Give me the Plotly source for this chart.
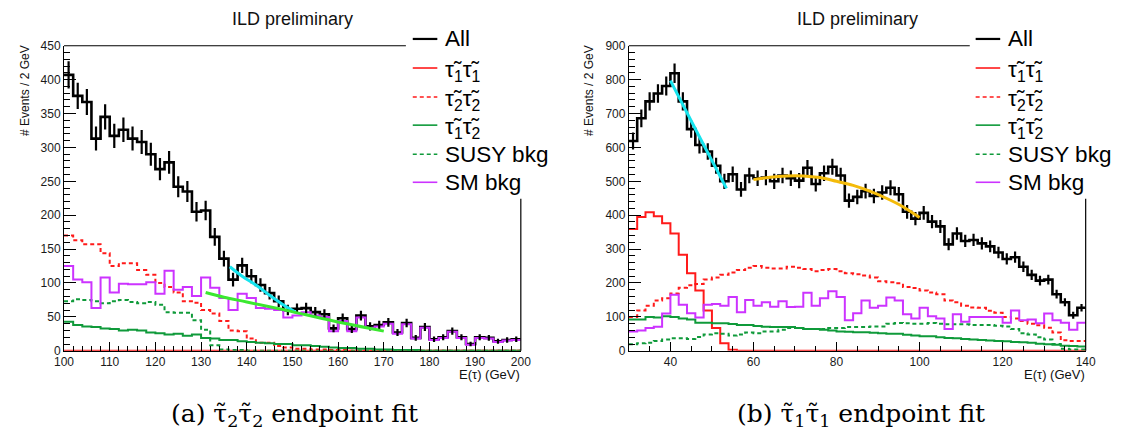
import numpy as np
import plotly.graph_objects as go

W, H = 1133, 443

# ---------------- data: left panel (stau2 endpoint), bins 100..200 GeV, 2 GeV wide
edges_L = list(range(100, 202, 2))
all_L = [407, 376, 367, 313, 345, 317, 326, 313, 308, 290, 268, 278, 242, 235, 205, 207, 168, 136, 105, 126,
         110, 97, 85, 73, 60, 62, 63, 57, 54, 33, 48, 32, 52, 36, 38, 42, 27, 41, 19, 35,
         17, 20, 29, 20, 10, 20, 19, 14, 16, 17]
stau11_L = [0] * 50
stau22_L = [170, 163, 157, 157, 144, 125, 129, 129, 119, 112, 100, 94, 86, 73, 71, 60, 55, 44, 30, 29,
            18, 12, 12, 7, 5, 3, 3, 2, 2, 1, 1] + [0] * 19
stau12_L = [43, 38, 36, 35, 33, 32, 30, 31, 30, 27, 26, 24, 25, 22, 24, 19, 18, 16, 16, 14,
            13, 12, 11, 10, 10, 8, 8, 7, 6, 5, 4, 4, 3, 3, 2, 2, 1, 1, 1] + [0] * 11
susy_L = [73, 76, 75, 73, 70, 73, 75, 72, 70, 72, 68, 57, 56, 56, 45, 31, 8, 2, 1, 1] + [0] * 30
sm_L = [125, 105, 101, 63, 108, 86, 99, 98, 98, 101, 84, 118, 90, 94, 81, 108, 93, 78, 60, 84,
        78, 63, 62, 60, 49, 52, 57, 52, 50, 29, 44, 29, 49, 34, 36, 40, 25, 39, 18, 34,
        16, 19, 28, 19, 9, 19, 18, 13, 15, 16]
fit1_L_x = [136.3, 139, 142, 145, 148.4, 150.7]
fit1_L_y = [124, 110, 97, 82, 66, 57]
fit2_L_x = [131, 135, 140, 148.4, 159, 170]
fit2_L_y = [86, 79, 72, 60, 44, 29]

# ---------------- data: right panel (stau1 endpoint), bins 30..140 GeV, 2 GeV wide
edges_R = list(range(30, 142, 2))
all_R = [619, 686, 736, 759, 781, 819, 736, 654, 607, 588, 546, 500, 521, 476, 517, 509, 511, 500, 517, 509,
         502, 540, 492, 524, 543, 517, 443, 454, 471, 457, 467, 481, 462, 410, 390, 407, 381, 367, 314, 346,
         324, 327, 317, 308, 290, 271, 276, 248, 224, 207, 210, 167, 143, 105, 127]
stau11_R = [359, 395, 409, 397, 376, 346, 283, 229, 178, 119, 67, 22, 3] + [0] * 42
stau22_R = [100, 119, 133, 148, 155, 169, 186, 193, 197, 210, 216, 224, 231, 238, 245, 250, 245, 243, 243, 248,
            245, 241, 235, 238, 241, 235, 229, 226, 222, 216, 205, 202, 199, 188, 185, 178, 172, 167, 148, 143,
            133, 128, 127, 118, 112, 100, 95, 88, 80, 75, 68, 54, 31, 29, 29]
stau12_R = [92, 92, 100, 98, 102, 100, 95, 92, 83, 83, 81, 81, 79, 76, 76, 73, 71, 70, 70, 70,
            67, 64, 64, 62, 60, 57, 56, 55, 55, 53, 52, 50, 50, 47, 45, 43, 43, 40, 38, 37,
            35, 33, 32, 30, 29, 28, 26, 25, 24, 21, 19, 18, 15, 14, 13]
susy_R = [19, 22, 24, 29, 33, 37, 37, 35, 41, 48, 52, 50, 45, 48, 54, 52, 57, 57, 62, 67,
          67, 64, 64, 64, 67, 67, 70, 70, 70, 72, 72, 80, 82, 81, 80, 80, 82, 80, 78, 78,
          78, 76, 76, 76, 74, 72, 64, 52, 48, 40, 33, 20, 6, 4, 4]
sm_R = [57, 60, 67, 71, 110, 165, 136, 111, 98, 136, 138, 133, 159, 114, 150, 133, 143, 130, 146, 129,
        130, 171, 133, 155, 176, 159, 90, 111, 148, 127, 133, 157, 148, 108, 95, 127, 102, 95, 64, 108,
        86, 100, 100, 100, 100, 83, 119, 90, 92, 81, 110, 90, 83, 62, 83]
fit1_R_x = [40, 46.7, 53.5]
fit1_R_y = [797, 638, 479]
fit2_R_x = [60, 64, 68, 72, 76, 80, 84, 88, 92, 96, 100]
fit2_R_y = [505, 512, 516, 516, 511, 500, 488, 471, 450, 425, 393]

legend_labels = ["All", "τ̃<sub>1</sub>τ̃<sub>1</sub>", "τ̃<sub>2</sub>τ̃<sub>2</sub>",
                 "τ̃<sub>1</sub>τ̃<sub>2</sub>", "SUSY bkg", "SM bkg"]

# ---------------- styles
BLACK = "#000000"
RED = "#ff1a1a"
GREEN = "#0f9a3a"
MAG = "#cc33ff"
CYAN = "#16e4ee"
LIME = "#3be830"
ORANGE = "#f4bb0a"
DOT = "4px,3px"
styles = [
    dict(color=BLACK, width=2.6, dash="solid"),
    dict(color=RED, width=2, dash="solid"),
    dict(color=RED, width=2, dash=DOT),
    dict(color=GREEN, width=2, dash="solid"),
    dict(color=GREEN, width=2, dash=DOT),
    dict(color=MAG, width=2, dash="solid"),
]

fig = go.Figure()


def step(edges, vals):
    return edges, list(vals) + [vals[-1]]


def add_panel(xa, ya, edges, series, fits):
    centers = [(edges[i] + edges[i + 1]) / 2 for i in range(len(edges) - 1)]
    x, y = step(edges, series[0])
    fig.add_trace(go.Scatter(x=x, y=y, mode="lines", line=dict(shape="hv", **styles[0]),
                             xaxis=xa, yaxis=ya, showlegend=False, hoverinfo="skip"))
    for s, st in zip(series[1:], styles[1:]):
        x, y = step(edges, s)
        fig.add_trace(go.Scatter(x=x, y=y, mode="lines", line=dict(shape="hv", **st),
                                 xaxis=xa, yaxis=ya, showlegend=False, hoverinfo="skip"))
    # Poisson error bars of the total
    fig.add_trace(go.Scatter(x=centers, y=series[0], mode="markers",
                             marker=dict(size=1, color=BLACK),
                             error_y=dict(type="data", array=np.sqrt(series[0]), thickness=2.2,
                                          width=0, color=BLACK),
                             xaxis=xa, yaxis=ya, showlegend=False, hoverinfo="skip"))
    for fx, fy, col in fits:
        fig.add_trace(go.Scatter(x=fx, y=fy, mode="lines", line=dict(color=col, width=3, shape="spline"),
                                 xaxis=xa, yaxis=ya, showlegend=False, hoverinfo="skip"))


add_panel("x", "y", edges_L, [all_L, stau11_L, stau22_L, stau12_L, susy_L, sm_L],
          [(fit1_L_x, fit1_L_y, CYAN), (fit2_L_x, fit2_L_y, LIME)])
add_panel("x2", "y2", edges_R, [all_R, stau11_R, stau22_R, stau12_R, susy_R, sm_R],
          [(fit1_R_x, fit1_R_y, CYAN), (fit2_R_x, fit2_R_y, ORANGE)])


def px(v):
    return v / W


def py(v):
    return 1 - v / H


TOP, BOT = 40, 355
FONT = "Liberation Sans, Arial, sans-serif"
tickfont = dict(family=FONT, size=12, color="#1a1a1a")


def xax(dom, rng, dtick, mdtick):
    return dict(domain=dom, range=rng, dtick=dtick, tick0=0, ticks="inside", ticklen=9, tickwidth=1,
                tickcolor="black", showline=True, linecolor="black", linewidth=1, showgrid=False,
                zeroline=False, tickfont=tickfont, fixedrange=True,
                minor=dict(ticks="inside", ticklen=5, dtick=mdtick, tickcolor="black", tickwidth=1,
                           showgrid=False))


def yax(rng, dtick, mdtick, anchor):
    return dict(domain=[py(BOT), py(TOP)], range=rng, dtick=dtick, tick0=0, ticks="inside", ticklen=12,
                tickwidth=1, tickcolor="black", showline=True, linecolor="black", linewidth=1,
                showgrid=False, zeroline=False, tickfont=tickfont, anchor=anchor, fixedrange=True,
                minor=dict(ticks="inside", ticklen=6, dtick=mdtick, tickcolor="black", tickwidth=1,
                           showgrid=False))


LX0, LX1 = 55, 520
RX0, RX1 = 630, 1095
fig.update_layout(
    width=W, height=H, margin=dict(l=0, r=0, t=0, b=0),
    paper_bgcolor="white", plot_bgcolor="white",
    xaxis=dict(**xax([px(LX0), px(LX1)], [100, 200], 10, 2), anchor="y"),
    yaxis=yax([0, 450], 50, 10, "x"),
    xaxis2=dict(**xax([px(RX0), px(RX1)], [30, 140], 20, 5), anchor="y2"),
    yaxis2=yax([0, 900], 100, 20, "x2"),
)

shapes = []
annotations = []
rows = [33, 63, 93, 122, 152, 181]
for (x0, x1, leg_line_x0, text_x, frame_end) in [(LX0, LX1, 410, 441, 403), (RX0, RX1, 983, 1014, 977)]:
    shapes.append(dict(type="line", xref="paper", yref="paper", x0=px(x0), x1=px(frame_end),
                       y0=py(TOP), y1=py(TOP), line=dict(color="black", width=1.2)))
    shapes.append(dict(type="line", xref="paper", yref="paper", x0=px(x1), x1=px(x1),
                       y0=py(198), y1=py(BOT), line=dict(color="black", width=1.2)))
    for r, lab, st in zip(rows, legend_labels, styles):
        shapes.append(dict(type="line", xref="paper", yref="paper", x0=px(leg_line_x0),
                           x1=px(leg_line_x0 + 25), y0=py(r), y1=py(r),
                           line=dict(color=st["color"], width=2.2 if st["color"] == BLACK else 1.6,
                                     dash=st["dash"])))
        yoff = 0 if lab in ("All", "SUSY bkg", "SM bkg") else 3
        annotations.append(dict(text=lab, x=px(text_x), y=py(r + yoff), xref="paper", yref="paper",
                                xanchor="left", yanchor="middle", showarrow=False,
                                font=dict(family=FONT, size=22.5, color="black")))
    annotations.append(dict(text="ILD preliminary", x=px((x0 + x1) / 2), y=py(12), xref="paper", yref="paper",
                            xanchor="center", yanchor="middle", showarrow=False,
                            font=dict(family=FONT, size=18, color="#111")))
    annotations.append(dict(text="E(τ) (GeV)", x=px(x1 + 1), y=py(379), xref="paper", yref="paper",
                            xanchor="right", yanchor="middle", showarrow=False,
                            font=dict(family=FONT, size=13, color="#111")))

annotations.append(dict(text="# Events / 2 GeV", x=px(16), y=py(37), xref="paper", yref="paper",
                        xanchor="center", yanchor="top", textangle=-90, showarrow=False,
                        font=dict(family=FONT, size=12, color="#111")))
annotations.append(dict(text="# Events / 2 GeV", x=px(590), y=py(37), xref="paper", yref="paper",
                        xanchor="center", yanchor="top", textangle=-90, showarrow=False,
                        font=dict(family=FONT, size=12, color="#111")))
SERIF = "DejaVu Serif, serif"
annotations.append(dict(text="(a) τ̃<sub>2</sub>τ̃<sub>2</sub> endpoint fit", x=px(290), y=py(421),
                        xref="paper", yref="paper", xanchor="center", yanchor="middle", showarrow=False,
                        font=dict(family=SERIF, size=25, color="black")))
annotations.append(dict(text="(b) τ̃<sub>1</sub>τ̃<sub>1</sub> endpoint fit", x=px(866), y=py(421),
                        xref="paper", yref="paper", xanchor="center", yanchor="middle", showarrow=False,
                        font=dict(family=SERIF, size=25, color="black")))

fig.update_layout(shapes=shapes, annotations=annotations)
fig.write_html("out.html",
               post_script="document.body.style.margin='0';document.body.style.padding='0';"
                           "document.documentElement.style.overflow='hidden';")
